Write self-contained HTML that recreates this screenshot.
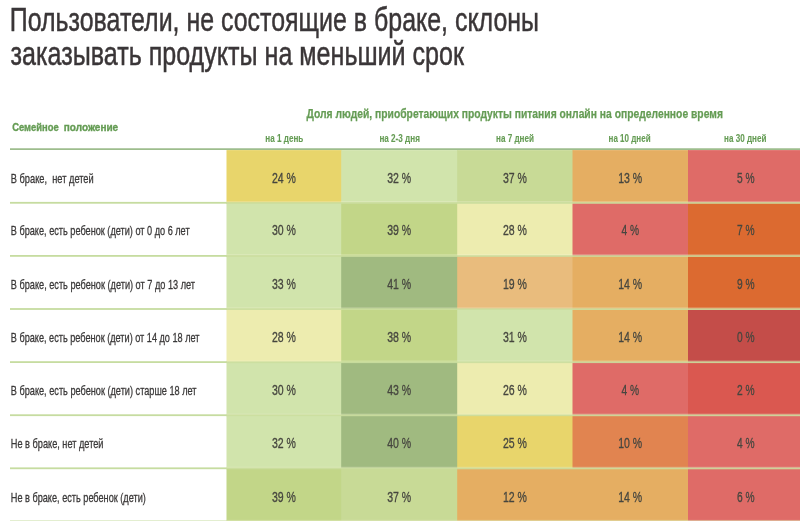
<!DOCTYPE html>
<html lang="ru"><head><meta charset="utf-8"><title>Пользователи, не состоящие в браке</title>
<style>
html,body{margin:0;padding:0;background:#fff;}
body{width:800px;height:521px;overflow:hidden;font-family:"Liberation Sans",sans-serif;}
svg{display:block;}
text{white-space:pre;font-family:"Liberation Sans",sans-serif;}
.t{font-size:34px;fill:#3a3637;stroke:#3a3637;stroke-width:0.5px;}
.h{font-size:13px;font-weight:bold;fill:#659c54;stroke:#659c54;stroke-width:0.25px;}
.hs{font-size:10.5px;font-weight:bold;fill:#659c54;stroke:#659c54;stroke-width:0.35px;}
.sh{font-size:10.8px;font-weight:bold;fill:#659c54;stroke:#659c54;stroke-width:0.12px;}
.l{font-size:13px;fill:#3a3838;stroke:#3a3838;stroke-width:0.3px;}
.v{font-size:14px;fill:#46463f;stroke:#46463f;stroke-width:0.3px;}
</style></head><body>
<svg width="800" height="521" viewBox="0 0 800 521">
<defs><filter id="soft" x="-2%" y="-2%" width="104%" height="104%"><feGaussianBlur stdDeviation="0.38"/></filter></defs>
<rect width="800" height="521" fill="#ffffff"/>
<rect x="226.5" y="150.1" width="115.7" height="54.0" fill="#e8d56b"/>
<rect x="341.2" y="150.1" width="117.0" height="54.0" fill="#d1e4ac"/>
<rect x="457.2" y="150.1" width="116.3" height="54.0" fill="#c8da96"/>
<rect x="572.5" y="150.1" width="116.5" height="54.0" fill="#e5ae62"/>
<rect x="688.0" y="150.1" width="116.0" height="54.0" fill="#df6b67"/>
<rect x="226.5" y="203.1" width="115.7" height="54.0" fill="#d1e4ac"/>
<rect x="341.2" y="203.1" width="117.0" height="54.0" fill="#c2d688"/>
<rect x="457.2" y="203.1" width="116.3" height="54.0" fill="#edecaf"/>
<rect x="572.5" y="203.1" width="116.5" height="54.0" fill="#df6b67"/>
<rect x="688.0" y="203.1" width="116.0" height="54.0" fill="#dc6a30"/>
<rect x="226.5" y="256.1" width="115.7" height="54.0" fill="#d1e4ac"/>
<rect x="341.2" y="256.1" width="117.0" height="54.0" fill="#a0ba80"/>
<rect x="457.2" y="256.1" width="116.3" height="54.0" fill="#e9bc7d"/>
<rect x="572.5" y="256.1" width="116.5" height="54.0" fill="#e5ae62"/>
<rect x="688.0" y="256.1" width="116.0" height="54.0" fill="#dc6a30"/>
<rect x="226.5" y="309.1" width="115.7" height="54.0" fill="#edecaf"/>
<rect x="341.2" y="309.1" width="117.0" height="54.0" fill="#c2d688"/>
<rect x="457.2" y="309.1" width="116.3" height="54.0" fill="#d1e4ac"/>
<rect x="572.5" y="309.1" width="116.5" height="54.0" fill="#e5ae62"/>
<rect x="688.0" y="309.1" width="116.0" height="54.0" fill="#c44d49"/>
<rect x="226.5" y="362.1" width="115.7" height="54.0" fill="#d1e4ac"/>
<rect x="341.2" y="362.1" width="117.0" height="54.0" fill="#a0ba80"/>
<rect x="457.2" y="362.1" width="116.3" height="54.0" fill="#edecaf"/>
<rect x="572.5" y="362.1" width="116.5" height="54.0" fill="#df6b67"/>
<rect x="688.0" y="362.1" width="116.0" height="54.0" fill="#da5850"/>
<rect x="226.5" y="415.1" width="115.7" height="54.0" fill="#d1e4ac"/>
<rect x="341.2" y="415.1" width="117.0" height="54.0" fill="#a0ba80"/>
<rect x="457.2" y="415.1" width="116.3" height="54.0" fill="#e8d56b"/>
<rect x="572.5" y="415.1" width="116.5" height="54.0" fill="#e18450"/>
<rect x="688.0" y="415.1" width="116.0" height="54.0" fill="#df6b67"/>
<rect x="226.5" y="468.1" width="115.7" height="54.0" fill="#c2d688"/>
<rect x="341.2" y="468.1" width="117.0" height="54.0" fill="#c8da96"/>
<rect x="457.2" y="468.1" width="116.3" height="54.0" fill="#e5ae62"/>
<rect x="572.5" y="468.1" width="116.5" height="54.0" fill="#e5ae62"/>
<rect x="688.0" y="468.1" width="116.0" height="54.0" fill="#df6b67"/>

<rect x="10" y="201.9" width="217" height="1.8" fill="#c6dca0"/>
<rect x="226.5" y="201.3" width="574" height="1.0" fill="#f4f6d8" fill-opacity="0.4"/>
<rect x="226.5" y="202.1" width="574" height="1.7" fill="#cbde9f" fill-opacity="0.9"/>
<rect x="10" y="255.0" width="217" height="1.8" fill="#c6dca0"/>
<rect x="226.5" y="254.4" width="574" height="1.0" fill="#f4f6d8" fill-opacity="0.4"/>
<rect x="226.5" y="255.2" width="574" height="1.7" fill="#cbde9f" fill-opacity="0.9"/>
<rect x="10" y="308.1" width="217" height="1.8" fill="#c6dca0"/>
<rect x="226.5" y="307.5" width="574" height="1.0" fill="#f4f6d8" fill-opacity="0.4"/>
<rect x="226.5" y="308.3" width="574" height="1.7" fill="#cbde9f" fill-opacity="0.9"/>
<rect x="10" y="361.2" width="217" height="1.8" fill="#c6dca0"/>
<rect x="226.5" y="360.6" width="574" height="1.0" fill="#f4f6d8" fill-opacity="0.4"/>
<rect x="226.5" y="361.4" width="574" height="1.7" fill="#cbde9f" fill-opacity="0.9"/>
<rect x="10" y="414.3" width="217" height="1.8" fill="#c6dca0"/>
<rect x="226.5" y="413.7" width="574" height="1.0" fill="#f4f6d8" fill-opacity="0.4"/>
<rect x="226.5" y="414.5" width="574" height="1.7" fill="#cbde9f" fill-opacity="0.9"/>
<rect x="10" y="467.4" width="217" height="1.8" fill="#c6dca0"/>
<rect x="226.5" y="466.8" width="574" height="1.0" fill="#f4f6d8" fill-opacity="0.4"/>
<rect x="226.5" y="467.6" width="574" height="1.7" fill="#cbde9f" fill-opacity="0.9"/>
<rect x="10" y="520.5" width="217" height="1.8" fill="#c6dca0"/>
<rect x="226.5" y="519.9" width="574" height="1.0" fill="#f4f6d8" fill-opacity="0.4"/>
<rect x="226.5" y="520.7" width="574" height="1.7" fill="#cbde9f" fill-opacity="0.9"/>
<rect x="10" y="148.4" width="790" height="1.4" fill="#86ad72"/>
<g filter="url(#soft)">
<text class="t" x="9.8" y="31.4" textLength="529.2" lengthAdjust="spacingAndGlyphs">Пользователи, не состоящие в браке, склоны</text>
<text class="t" x="10.5" y="65.0" textLength="453.5" lengthAdjust="spacingAndGlyphs">заказывать продукты на меньший срок</text>
<text class="hs" y="130.9"><tspan x="12.2" textLength="46.6" lengthAdjust="spacingAndGlyphs">Семейное</tspan> <tspan x="63.8" textLength="54.4" lengthAdjust="spacingAndGlyphs">положение</tspan></text>
<text class="h" x="306.5" y="118.4" textLength="416.4" lengthAdjust="spacingAndGlyphs">Доля людей, приобретающих продукты питания онлайн на определенное время</text>
<text class="sh" x="265.3" y="141.5" textLength="38.0" lengthAdjust="spacingAndGlyphs">на 1 день</text>
<text class="sh" x="379.4" y="141.5" textLength="40.5" lengthAdjust="spacingAndGlyphs">на 2-3 дня</text>
<text class="sh" x="496.0" y="141.5" textLength="38.0" lengthAdjust="spacingAndGlyphs">на 7 дней</text>
<text class="sh" x="608.6" y="141.5" textLength="42.0" lengthAdjust="spacingAndGlyphs">на 10 дней</text>
<text class="sh" x="724.1" y="141.5" textLength="42.3" lengthAdjust="spacingAndGlyphs">на 30 дней</text>
<text class="l" x="10.8" y="182.8" textLength="82.9" lengthAdjust="spacingAndGlyphs">В браке,  нет детей</text>
<text class="l" x="10.8" y="234.9" textLength="178.8" lengthAdjust="spacingAndGlyphs">В браке, есть ребенок (дети) от 0 до 6 лет</text>
<text class="l" x="10.8" y="288.8" textLength="184.2" lengthAdjust="spacingAndGlyphs">В браке, есть ребенок (дети) от 7 до 13 лет</text>
<text class="l" x="10.8" y="341.8" textLength="188.7" lengthAdjust="spacingAndGlyphs">В браке, есть ребенок (дети) от 14 до 18 лет</text>
<text class="l" x="10.8" y="394.9" textLength="185.7" lengthAdjust="spacingAndGlyphs">В браке, есть ребенок (дети) старше 18 лет</text>
<text class="l" x="10.8" y="447.8" textLength="92.7" lengthAdjust="spacingAndGlyphs">Не в браке, нет детей</text>
<text class="l" x="10.8" y="502.1" textLength="135.0" lengthAdjust="spacingAndGlyphs">Не в браке, есть ребенок (дети)</text>
<text class="v" x="271.9" y="182.6" textLength="24.0" lengthAdjust="spacingAndGlyphs">24 %</text>
<text class="v" x="387.2" y="182.6" textLength="24.0" lengthAdjust="spacingAndGlyphs">32 %</text>
<text class="v" x="502.9" y="182.6" textLength="24.0" lengthAdjust="spacingAndGlyphs">37 %</text>
<text class="v" x="618.2" y="182.6" textLength="24.0" lengthAdjust="spacingAndGlyphs">13 %</text>
<text class="v" x="736.9" y="182.6" textLength="17.6" lengthAdjust="spacingAndGlyphs">5 %</text>
<text class="v" x="271.9" y="234.7" textLength="24.0" lengthAdjust="spacingAndGlyphs">30 %</text>
<text class="v" x="387.2" y="234.7" textLength="24.0" lengthAdjust="spacingAndGlyphs">39 %</text>
<text class="v" x="502.9" y="234.7" textLength="24.0" lengthAdjust="spacingAndGlyphs">28 %</text>
<text class="v" x="621.5" y="234.7" textLength="17.6" lengthAdjust="spacingAndGlyphs">4 %</text>
<text class="v" x="736.9" y="234.7" textLength="17.6" lengthAdjust="spacingAndGlyphs">7 %</text>
<text class="v" x="271.9" y="288.6" textLength="24.0" lengthAdjust="spacingAndGlyphs">33 %</text>
<text class="v" x="387.2" y="288.6" textLength="24.0" lengthAdjust="spacingAndGlyphs">41 %</text>
<text class="v" x="502.9" y="288.6" textLength="24.0" lengthAdjust="spacingAndGlyphs">19 %</text>
<text class="v" x="618.2" y="288.6" textLength="24.0" lengthAdjust="spacingAndGlyphs">14 %</text>
<text class="v" x="736.9" y="288.6" textLength="17.6" lengthAdjust="spacingAndGlyphs">9 %</text>
<text class="v" x="271.9" y="341.6" textLength="24.0" lengthAdjust="spacingAndGlyphs">28 %</text>
<text class="v" x="387.2" y="341.6" textLength="24.0" lengthAdjust="spacingAndGlyphs">38 %</text>
<text class="v" x="502.9" y="341.6" textLength="24.0" lengthAdjust="spacingAndGlyphs">31 %</text>
<text class="v" x="618.2" y="341.6" textLength="24.0" lengthAdjust="spacingAndGlyphs">14 %</text>
<text class="v" x="736.9" y="341.6" textLength="17.6" lengthAdjust="spacingAndGlyphs">0 %</text>
<text class="v" x="271.9" y="394.7" textLength="24.0" lengthAdjust="spacingAndGlyphs">30 %</text>
<text class="v" x="387.2" y="394.7" textLength="24.0" lengthAdjust="spacingAndGlyphs">43 %</text>
<text class="v" x="502.9" y="394.7" textLength="24.0" lengthAdjust="spacingAndGlyphs">26 %</text>
<text class="v" x="621.5" y="394.7" textLength="17.6" lengthAdjust="spacingAndGlyphs">4 %</text>
<text class="v" x="736.9" y="394.7" textLength="17.6" lengthAdjust="spacingAndGlyphs">2 %</text>
<text class="v" x="271.9" y="447.6" textLength="24.0" lengthAdjust="spacingAndGlyphs">32 %</text>
<text class="v" x="387.2" y="447.6" textLength="24.0" lengthAdjust="spacingAndGlyphs">40 %</text>
<text class="v" x="502.9" y="447.6" textLength="24.0" lengthAdjust="spacingAndGlyphs">25 %</text>
<text class="v" x="618.2" y="447.6" textLength="24.0" lengthAdjust="spacingAndGlyphs">10 %</text>
<text class="v" x="736.9" y="447.6" textLength="17.6" lengthAdjust="spacingAndGlyphs">4 %</text>
<text class="v" x="271.9" y="501.9" textLength="24.0" lengthAdjust="spacingAndGlyphs">39 %</text>
<text class="v" x="387.2" y="501.9" textLength="24.0" lengthAdjust="spacingAndGlyphs">37 %</text>
<text class="v" x="502.9" y="501.9" textLength="24.0" lengthAdjust="spacingAndGlyphs">12 %</text>
<text class="v" x="618.2" y="501.9" textLength="24.0" lengthAdjust="spacingAndGlyphs">14 %</text>
<text class="v" x="736.9" y="501.9" textLength="17.6" lengthAdjust="spacingAndGlyphs">6 %</text>
</g>
</svg>
</body></html>
